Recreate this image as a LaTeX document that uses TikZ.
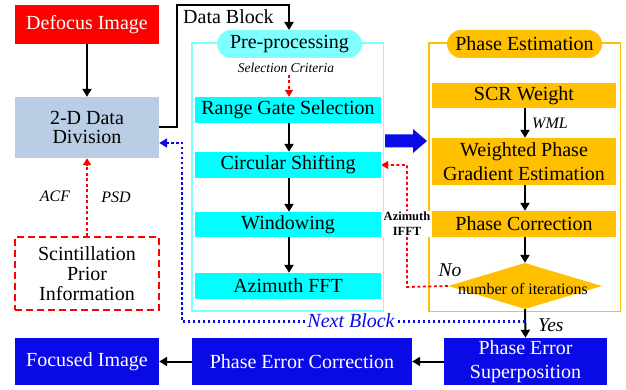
\documentclass[tikz,border=0pt]{standalone}
\usepackage{fontspec}
\setmainfont{Liberation Serif}
\usetikzlibrary{arrows.meta,shapes.geometric}
\definecolor{divblue}{HTML}{B9CDE5}
\definecolor{orng}{HTML}{FFC000}
\definecolor{cyanf}{HTML}{00FFFF}
\definecolor{cyanl}{HTML}{80FFFF}
\definecolor{dblue}{HTML}{0A0AE6}
\definecolor{frcyan}{HTML}{80FFFF}
\tikzset{
  base/.style={inner sep=0pt, align=center, font=\fontsize{20}{21}\selectfont},
  box/.style={base, minimum width=#1},
  blk/.style={draw=black, line width=2pt, -{Triangle[length=8pt,width=9pt]}},
  reddash/.style={draw=red, line width=1.8pt, dash pattern=on 3pt off 2.5pt, -{Triangle[length=7pt,width=8pt]}},
  bluedot/.style={draw=dblue, line width=2.2pt, dash pattern=on 2.5pt off 2.5pt, -{Triangle[length=8pt,width=9pt]}},
  itl/.style={inner sep=1pt, font=\fontsize{16}{18}\selectfont\itshape},
}
\begin{document}
\begin{tikzpicture}[x=1pt,y=-1pt]
\useasboundingbox (0,0) rectangle (626,390);
% frames
\draw[frcyan, line width=1.6pt] (192,43) rectangle (383.5,311);
\draw[orng, line width=1.4pt] (429,43) rectangle (620.5,311.5);
% left column
\node[box=144pt, minimum height=39pt, fill=red, text=white] (def) at (87,24.5) {Defocus Image};
\node[box=144pt, minimum height=61pt, fill=divblue, font=\fontsize{20}{19.5}\selectfont] (div) at (87,127.5) {2-D Data\\Division};
\node[box=144pt, minimum height=73pt, draw=red, line width=1.4pt, dash pattern=on 7pt off 4pt, font=\fontsize{20}{20}\selectfont] (sci) at (87,273.5) {Scintillation\\Prior\\Information};
\node[box=144pt, minimum height=47pt, fill=dblue, text=white] (foc) at (87,361.5) {Focused Image};
% pre-processing
\node[box=145pt, minimum height=28pt, fill=cyanl, rounded corners=14pt] (pre) at (289.5,44) {Pre-processing};
\node[inner sep=0pt, font=\fontsize{13.5}{15}\selectfont\itshape] (crit) at (286,68) {Selection Criteria};
\node[box=186pt, minimum height=26pt, fill=cyanf] (rgs) at (288,110) {Range Gate Selection};
\node[box=186pt, minimum height=26pt, fill=cyanf] (cs) at (288,165) {Circular Shifting};
\node[box=186pt, minimum height=25pt, fill=cyanf] (win) at (288,224.5) {Windowing};
\node[box=186pt, minimum height=26pt, fill=cyanf] (fft) at (288,286) {Azimuth FFT};
% phase estimation
\node[box=155pt, minimum height=28pt, fill=orng, rounded corners=14pt] (pe) at (524.5,44) {Phase Estimation};
\node[box=184pt, minimum height=25pt, fill=orng] (scr) at (524,95.5) {SCR Weight};
\node[box=184pt, minimum height=47pt, fill=orng, font=\fontsize{20}{24}\selectfont] (wpg) at (524,161.5) {Weighted Phase\\Gradient Estimation};
\node[box=184pt, minimum height=26pt, fill=orng] (pc) at (524,224) {Phase Correction};
\node[diamond, fill=orng, inner sep=0pt, minimum width=154pt, minimum height=46pt] (it) at (525,286) {};
\node[inner sep=0pt, font=\fontsize{16}{17}\selectfont] (itt) at (523,289) {number of iterations};
% bottom row
\node[box=163pt, minimum height=47pt, fill=dblue, text=white, font=\fontsize{20}{24}\selectfont] (pes) at (525.5,361.5) {Phase Error\\Superposition};
\node[box=220pt, minimum height=47pt, fill=dblue, text=white] (pec) at (302,361.5) {Phase Error Correction};
% big blue arrow
\fill[dblue] (385,134.5) -- (413,134.5) -- (413,129) -- (427,141) -- (413,153) -- (413,147.5) -- (385,147.5) -- cycle;
% connectors
\draw[blk] (def) -- (div);
\draw[blk] (div.east |- 0,127) -- (177,127) -- (177,5) -- (289,5) -- (289,30);
\node[base, anchor=west] (db) at (183,17) {Data Block};
\draw[reddash] (289,75) -- (rgs.north -| 289,0);
\draw[blk] (rgs.south -| 289,0) -- (cs.north -| 289,0);
\draw[blk] (cs.south -| 289,0) -- (win.north -| 289,0);
\draw[blk] (win.south -| 289,0) -- (fft.north -| 289,0);
\draw[reddash] (sci.north) -- (div.south);
\node[itl] (acf) at (55,196) {ACF};
\node[itl] (psd) at (116,197) {PSD};
\draw[blk] (scr.south -| 525,0) -- (wpg.north -| 525,0);
\node[itl, anchor=west] (wml) at (531,123) {WML};
\draw[blk] (wpg.south -| 525,0) -- (pc.north -| 525,0);
\draw[blk] (pc.south -| 525,0) -- (it.north);
\coordinate (nb) at (525,321.5);
\draw[blk] (it.south) -- (pes.north);
\node[itl, font=\fontsize{19.5}{21}\selectfont\itshape, anchor=west] (yes) at (537,325) {Yes};
\node[itl, font=\fontsize{19.5}{21}\selectfont\itshape] (no) at (450,270) {No};
\draw[bluedot] (nb) -- (182,321.5) -- (182,143) -- (div.east |- 0,143);
\node[inner sep=1pt, fill=white, text=dblue, font=\fontsize{20}{21}\selectfont\itshape] (nbl) at (351,321) {Next Block};
\draw[reddash] (it.west) -- (407,287) -- (407,165) -- (cs.east |- 0,165);
\node[inner sep=1pt, fill=white, align=center, font=\fontsize{12.5}{15}\bfseries] (ifft) at (407,224) {Azimuth\\IFFT};
\draw[blk] (pes.west) -- (pec.east);
\draw[blk] (pec.west) -- (foc.east);
\end{tikzpicture}
\end{document}
